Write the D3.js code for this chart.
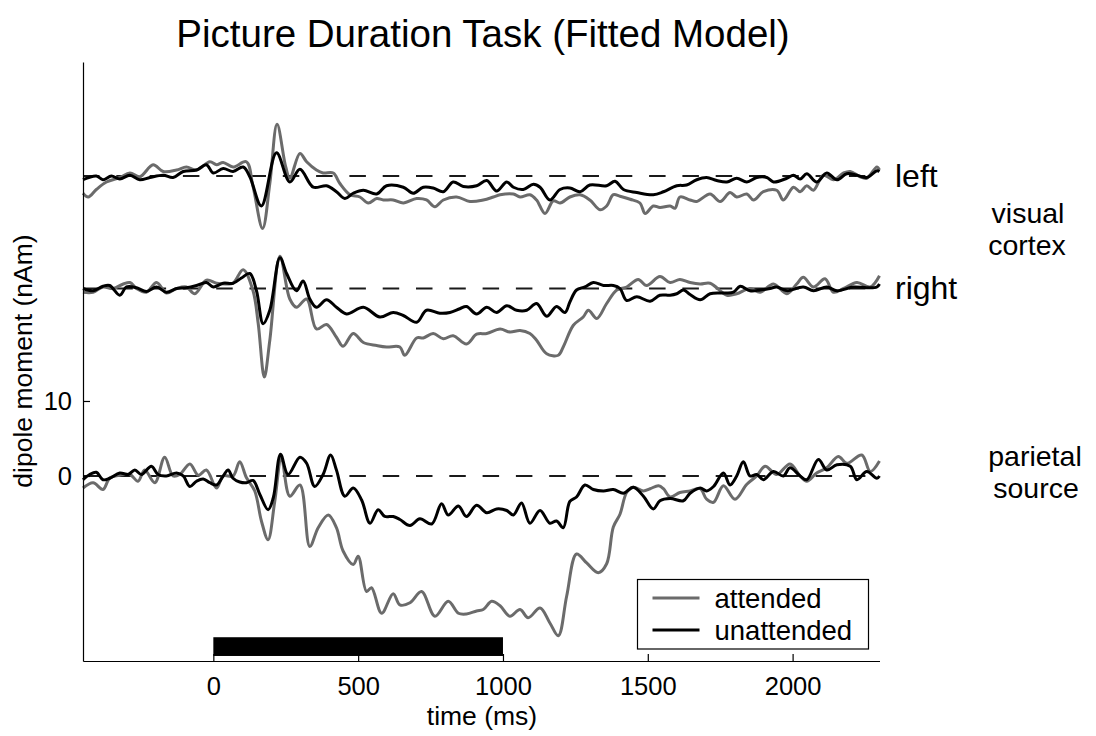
<!DOCTYPE html>
<html>
<head>
<meta charset="utf-8">
<script src="https://cdn.jsdelivr.net/npm/d3@7"></script>
<style>
  body { margin: 0; background: #fff; }
  text { font-family: "Liberation Sans", Arial, Helvetica, sans-serif; fill: #000; }
</style>
</head>
<body>
<svg id="chart" width="1096" height="736"></svg>
<script>
// time (ms), dipole moment relative to each source baseline (nAm)
const leftAttended = [[-450,-2.3],[-432,-2.8],[-404,-1.8],[-369,-0.8],[-323,-0.2],[-288,0.4],[-254,-0.1],[-208,1.5],[-173,0.6],[-127,0.8],[-93,1.2],[-58,0.8],[-12,1.9],[11,1.5],[34,1.8],[68,1.2],[114,1.9],[137,-1.4],[170,-7.0],[195,-1.0],[220,6.9],[250,1.2],[264,-0.3],[299,3.0],[322,1.9],[356,0.8],[379,0.4],[414,0.4],[437,-1.0],[472,-2.5],[506,-2.8],[535,-3.6],[564,-3.0],[587,-3.2],[621,-3.2],[656,-3.6],[702,-3.0],[736,-3.2],[765,-4.1],[794,-3.2],[840,-2.8],[886,-3.4],[932,-3.2],[967,-2.8],[990,-2.5],[1036,-2.4],[1059,-2.8],[1093,-2.5],[1116,-3.2],[1145,-5.0],[1174,-3.3],[1197,-3.6],[1231,-2.8],[1266,-2.5],[1300,-3.2],[1335,-4.5],[1358,-4.0],[1381,-2.5],[1404,-2.7],[1439,-3.1],[1473,-3.6],[1491,-5.0],[1519,-4.0],[1542,-4.2],[1577,-4.0],[1594,-4.3],[1611,-2.8],[1646,-3.2],[1669,-3.4],[1715,-2.4],[1750,-3.4],[1784,-2.2],[1807,-2.8],[1842,-2.4],[1865,-3.2],[1899,-2.1],[1945,-1.9],[1968,-3.2],[2003,-1.5],[2026,-2.1],[2049,-1.3],[2072,-1.9],[2106,0.1],[2141,-0.5],[2176,0.4],[2199,0.6],[2233,-0.1],[2256,-0.3],[2291,1.2],[2300,0.8]];
const leftUnattended = [[-450,-0.5],[-404,0],[-381,-0.5],[-352,0],[-323,-0.4],[-288,0.1],[-254,-0.5],[-219,-0.2],[-173,0.1],[-139,-0.2],[-104,0.6],[-58,0.8],[-24,1.5],[0,0.4],[34,1.0],[68,0.6],[103,1.2],[126,-0.1],[166,-4.0],[218,3.1],[264,-0.8],[299,0.9],[345,-1.5],[391,-1.3],[425,-2.1],[454,-3.0],[483,-2.3],[518,-1.9],[564,-2.4],[598,-1.3],[656,-1.5],[690,-2.3],[725,-1.5],[759,-1.6],[794,-2.1],[828,-0.8],[863,-1.4],[909,-1.3],[944,-0.6],[978,-2.0],[1013,-0.8],[1036,-1.5],[1070,-1.8],[1105,-1.1],[1128,-1.5],[1162,-3.2],[1197,-1.8],[1231,-1.6],[1266,-2.1],[1300,-1.2],[1358,-1.3],[1387,-0.7],[1416,-1.8],[1462,-2.2],[1519,-2.5],[1554,-2.1],[1600,-1.3],[1634,-1.2],[1669,-0.5],[1703,-0.2],[1738,-0.6],[1773,-0.8],[1807,-0.3],[1842,-0.8],[1876,-0.2],[1911,-0.2],[1934,-0.8],[1980,-0.3],[2003,0.1],[2026,-0.4],[2049,0.3],[2083,-0.8],[2118,0.4],[2153,-0.5],[2187,0.3],[2222,0.1],[2256,-0.2],[2291,0.7],[2300,0.6]];
const rightAttended = [[-450,-0.5],[-415,-0.5],[-381,0.2],[-346,0],[-311,0.6],[-288,0.8],[-265,0],[-231,-0.5],[-196,0.8],[-162,-0.6],[-127,0],[-93,0.2],[-64,-0.7],[-24,1.1],[11,0.7],[45,0.6],[68,0.7],[103,2.5],[137,-0.3],[155,-4.7],[176,-11.8],[195,-6.9],[230,4.3],[264,-1.4],[287,-2.5],[322,-1.4],[356,-5.4],[391,-4.8],[425,-6.5],[448,-7.7],[483,-6.0],[518,-7.2],[564,-7.6],[598,-7.8],[644,-7.8],[661,-8.9],[702,-6.6],[725,-6.6],[759,-6.0],[794,-6.7],[828,-6.3],[874,-7.4],[909,-6.1],[944,-6.0],[990,-5.4],[1024,-5.8],[1059,-5.6],[1093,-6.0],[1116,-6.9],[1151,-8.7],[1191,-8.9],[1208,-7.8],[1243,-4.9],[1277,-3.8],[1295,-2.9],[1324,-4.0],[1358,-2.0],[1393,-0.2],[1427,0.2],[1467,1.2],[1496,0.4],[1542,1.6],[1577,0.8],[1611,1.2],[1646,0.8],[1681,0.6],[1715,0.7],[1773,-0.9],[1807,-0.7],[1853,0],[1888,-0.5],[1934,0.6],[1980,-0.7],[2014,0.6],[2037,1.5],[2072,0.2],[2112,1.3],[2141,-0.5],[2176,0],[2222,0.8],[2268,0.2],[2300,1.7]];
const rightUnattended = [[-450,0],[-415,-0.3],[-381,0.3],[-358,0.4],[-323,-0.9],[-300,0.2],[-265,0.1],[-231,-0.4],[-196,0.2],[-162,-0.5],[-127,0],[-93,0.1],[-58,0.4],[-24,0.8],[0,0.2],[34,0.7],[68,0.7],[97,1.4],[126,2.0],[149,-0.3],[172,-4.7],[195,-2.9],[230,4.1],[253,2.0],[287,-0.3],[310,1.0],[333,-1.4],[356,-2.5],[391,-1.5],[425,-2.5],[460,-3.4],[518,-2.5],[575,-3.8],[621,-3.2],[656,-3.6],[702,-4.5],[736,-2.9],[782,-3.3],[817,-3.2],[851,-2.7],[874,-2.4],[909,-3.4],[944,-2.5],[978,-3.2],[1013,-2.3],[1047,-2.9],[1082,-2.9],[1116,-2.0],[1151,-3.7],[1185,-2.4],[1214,-3.2],[1231,-1.8],[1254,-0.2],[1283,0.2],[1312,0.8],[1347,0.4],[1381,0.4],[1404,0],[1427,-1.6],[1462,-1.1],[1508,-1.7],[1542,-0.9],[1577,-0.9],[1600,-0.7],[1623,-0.2],[1646,-0.8],[1681,-1.5],[1715,-0.7],[1761,-0.6],[1796,-0.5],[1819,0.3],[1853,-0.3],[1888,-0.2],[1922,0],[1945,0.2],[1980,-0.3],[2037,0.2],[2072,-0.3],[2118,0.2],[2153,-0.3],[2210,0.2],[2256,0.1],[2291,0.2],[2300,0.6]];
const parietalAttended = [[-450,-1.6],[-415,-0.9],[-381,-1.8],[-358,-0.3],[-323,0.1],[-288,0.2],[-260,-0.7],[-237,0.8],[-202,-0.9],[-168,2.5],[-139,0],[-116,0.2],[-81,1.6],[-52,0.1],[-24,0.8],[11,-1.6],[34,0],[68,0],[91,1.9],[114,-0.2],[143,-2.0],[166,-6.0],[189,-8.5],[212,-3.4],[235,2.4],[264,-2.7],[299,-1.2],[333,-9.4],[362,-6.9],[397,-5.2],[425,-6.9],[448,-10.0],[483,-11.8],[500,-10.7],[529,-15.4],[546,-14.9],[581,-18.3],[621,-15.7],[644,-17.2],[679,-16.9],[719,-15.4],[765,-18.7],[811,-16.7],[846,-18.3],[874,-18.4],[909,-18.0],[932,-17.8],[961,-16.7],[990,-17.3],[1024,-18.7],[1059,-17.8],[1087,-18.9],[1128,-17.6],[1162,-19.6],[1191,-21.3],[1220,-16.0],[1254,-10.4],[1289,-11.6],[1329,-12.9],[1358,-11.7],[1381,-6.8],[1404,-5.1],[1427,-2.2],[1450,-1.5],[1485,-2.0],[1508,-1.7],[1537,-1.3],[1554,-1.7],[1577,-2.8],[1611,-2.2],[1646,-2.0],[1681,-1.7],[1703,-3.1],[1727,-3.5],[1761,-1.3],[1801,-3.1],[1842,-1.1],[1876,0],[1905,1.3],[1945,0.2],[1991,1.6],[2026,0],[2049,-0.7],[2083,0.4],[2118,1.1],[2158,2.6],[2187,1.7],[2239,2.8],[2268,0.6],[2300,2.0]];
const parietalUnattended = [[-450,-0.5],[-427,0.2],[-404,0.5],[-381,-0.5],[-358,-0.3],[-323,0.4],[-294,0.2],[-271,0.8],[-248,0.2],[-214,1.3],[-191,0.2],[-162,0],[-127,0.4],[-104,0],[-81,-1.4],[-58,-0.7],[-35,-0.4],[-12,-0.9],[11,-1.2],[34,0],[51,0.8],[68,-0.3],[91,-0.8],[114,-0.9],[137,-0.6],[161,-2.5],[189,-4.5],[207,-2.9],[232,2.9],[258,0.2],[299,2.5],[322,1.7],[350,-1.4],[379,0.2],[405,2.8],[425,0.8],[454,-2.7],[483,-1.6],[512,-3.2],[541,-6.3],[569,-4.5],[592,-5.4],[621,-5.4],[644,-5.8],[679,-6.6],[713,-5.7],[754,-6.4],[788,-3.7],[811,-5.2],[846,-4.0],[874,-5.4],[909,-3.9],[944,-4.9],[978,-4.4],[1013,-4.6],[1036,-5.2],[1064,-3.6],[1093,-6.3],[1128,-4.6],[1162,-6.3],[1185,-6.0],[1208,-6.9],[1231,-3.4],[1254,-2.8],[1283,-1.2],[1312,-1.8],[1347,-2.0],[1381,-1.8],[1416,-2.3],[1450,-1.5],[1485,-2.7],[1519,-4.4],[1542,-3.3],[1577,-3.0],[1623,-3.3],[1646,-2.3],[1681,-1.6],[1703,-2.0],[1727,-1.4],[1761,0.4],[1784,-1.2],[1807,0],[1830,1.9],[1853,0],[1876,0.2],[1899,-0.5],[1934,0.6],[1968,0],[1991,1.1],[2026,0],[2049,-0.5],[2089,2.2],[2118,0.8],[2153,1.5],[2199,1.3],[2222,-0.5],[2256,0.6],[2291,-0.3],[2300,0]];

const sources = ["left", "right", "parietal"];
const sourceOffsets = [40, 25, 0];
const conditions = ["attended", "unattended"];
const xTicks = [0, 500, 1000, 1500, 2000];
const yTicks = [0, 10];
const stimulus = [0, 1000];
const timeRange = [-450, 2300];

const grey = "#6b6b6b";
const conditionColors = [grey, "#000"];

const svg = d3.select("#chart");

const x = d3.scaleLinear().domain(timeRange).range([83, 879.5]);
const y = d3.scaleLinear().domain([-24.67, 55.2]).range([661, 62]);

// title
svg.append("text")
  .attr("x", 483).attr("y", 47)
  .attr("text-anchor", "middle")
  .style("font-size", "38.5px")
  .text("Picture Duration Task (Fitted Model)");

// baselines
svg.selectAll("line.base")
  .data(sourceOffsets)
  .enter().append("line")
  .attr("class", "base")
  .attr("x1", x(timeRange[0])).attr("x2", x(timeRange[1]))
  .attr("y1", d => y(d)).attr("y2", d => y(d))
  .attr("stroke", "#1a1a1a")
  .attr("stroke-width", 2)
  .attr("stroke-dasharray", "16.5,16.8");

// traces, attended drawn first so unattended sits on top
const traces = [
  [leftAttended, 0, 0], [rightAttended, 1, 0], [parietalAttended, 2, 0],
  [leftUnattended, 0, 1], [rightUnattended, 1, 1], [parietalUnattended, 2, 1]
];

const line = offset => d3.line()
  .x(d => x(d[0]))
  .y(d => y(d[1] + offset))
  .curve(d3.curveCatmullRom.alpha(0.5));

svg.selectAll("path.trace")
  .data(traces)
  .enter().append("path")
  .attr("class", "trace")
  .attr("fill", "none")
  .attr("stroke", d => conditionColors[d[2]])
  .attr("stroke-width", 3)
  .attr("stroke-linejoin", "round")
  .attr("d", d => line(sourceOffsets[d[1]])(d[0]));

// stimulus bar
svg.append("rect")
  .attr("x", x(stimulus[0]))
  .attr("width", x(stimulus[1]) - x(stimulus[0]))
  .attr("y", y(-21.5))
  .attr("height", y(-24) - y(-21.5))
  .attr("fill", "#000");

// axes
const xAxis = svg.append("g")
  .attr("transform", `translate(0,${y.range()[0]})`)
  .call(d3.axisBottom(x).tickValues(xTicks).tickFormat(d3.format("d"))
    .tickSizeInner(-7).tickSizeOuter(0).tickPadding(16));

const yAxis = svg.append("g")
  .attr("transform", `translate(${x.range()[0]},0)`)
  .call(d3.axisLeft(y).tickValues(yTicks).tickFormat(d3.format("d"))
    .tickSizeInner(-7).tickSizeOuter(0).tickPadding(11));

[xAxis, yAxis].forEach(g => {
  g.attr("font-family", null).attr("font-size", null);
  g.selectAll("text").style("font-size", "25.5px");
  g.selectAll("path, line").attr("stroke", "#000").attr("stroke-width", 1.2);
});

svg.append("text")
  .attr("x", 482).attr("y", 725)
  .attr("text-anchor", "middle")
  .style("font-size", "26.5px")
  .text("time (ms)");

svg.append("text")
  .attr("transform", "translate(32,361) rotate(-90)")
  .attr("text-anchor", "middle")
  .style("font-size", "26.5px")
  .text("dipole moment (nAm)");

// source labels on the right
svg.selectAll("text.src")
  .data(sources.slice(0, 2))
  .enter().append("text")
  .attr("class", "src")
  .attr("x", 895)
  .attr("y", (d, i) => y(sourceOffsets[i]) + 11)
  .style("font-size", "32px")
  .text(d => d);

// two-line group labels, spaced so the lines do not collide
const groupLabels = [["visual", 1028, 223], ["cortex", 1027, 255], ["parietal", 1035, 466], ["source", 1036, 498]];
svg.selectAll("text.grp")
  .data(groupLabels)
  .enter().append("text")
  .attr("class", "grp")
  .attr("x", d => d[1]).attr("y", d => d[2])
  .attr("text-anchor", "middle")
  .style("font-size", "28.5px")
  .text(d => d[0]);

// legend
const legend = svg.append("g").attr("transform", "translate(637.5,579.5)");
legend.append("rect")
  .attr("width", 231).attr("height", 69.5)
  .attr("fill", "#fff").attr("stroke", "#000").attr("stroke-width", 1.2);

const items = legend.selectAll("g.item")
  .data(conditions)
  .enter().append("g")
  .attr("class", "item")
  .attr("transform", (d, i) => `translate(0,${18.5 + i * 32})`);
items.append("line")
  .attr("x1", 15).attr("x2", 62)
  .attr("stroke", (d, i) => conditionColors[i])
  .attr("stroke-width", 3);
items.append("text")
  .attr("x", 77).attr("y", 10)
  .style("font-size", "27.5px")
  .text(d => d);
</script>
</body>
</html>
